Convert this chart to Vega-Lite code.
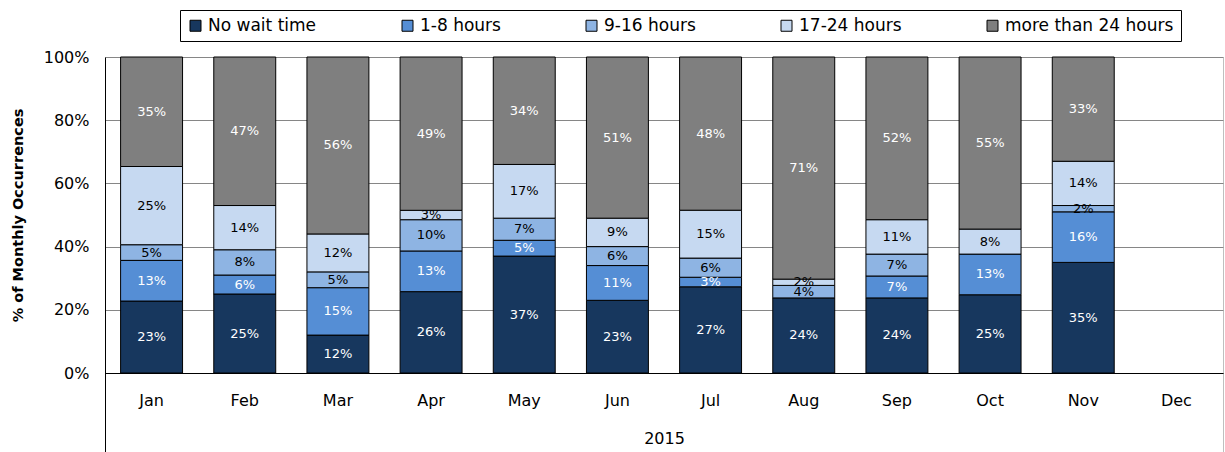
{
  "$schema": "https://vega.github.io/schema/vega-lite/v6.json",
  "width": 1118,
  "height": 395,
  "autosize": {"type": "none"},
  "padding": {"left": 105, "top": 57, "right": 2, "bottom": 0},
  "background": "white",
  "config": {"font": "DejaVu Sans", "view": {"stroke": "#bfbfbf", "strokeWidth": 1}},
  "data": {"values": [
    {"month": "Jan", "series": "No wait time", "rank": 1, "value": 0.23},
    {"month": "Jan", "series": "1-8 hours", "rank": 2, "value": 0.13},
    {"month": "Jan", "series": "9-16 hours", "rank": 3, "value": 0.05},
    {"month": "Jan", "series": "17-24 hours", "rank": 4, "value": 0.25},
    {"month": "Jan", "series": "more than 24 hours", "rank": 5, "value": 0.35},
    {"month": "Feb", "series": "No wait time", "rank": 1, "value": 0.25},
    {"month": "Feb", "series": "1-8 hours", "rank": 2, "value": 0.06},
    {"month": "Feb", "series": "9-16 hours", "rank": 3, "value": 0.08},
    {"month": "Feb", "series": "17-24 hours", "rank": 4, "value": 0.14},
    {"month": "Feb", "series": "more than 24 hours", "rank": 5, "value": 0.47},
    {"month": "Mar", "series": "No wait time", "rank": 1, "value": 0.12},
    {"month": "Mar", "series": "1-8 hours", "rank": 2, "value": 0.15},
    {"month": "Mar", "series": "9-16 hours", "rank": 3, "value": 0.05},
    {"month": "Mar", "series": "17-24 hours", "rank": 4, "value": 0.12},
    {"month": "Mar", "series": "more than 24 hours", "rank": 5, "value": 0.56},
    {"month": "Apr", "series": "No wait time", "rank": 1, "value": 0.26},
    {"month": "Apr", "series": "1-8 hours", "rank": 2, "value": 0.13},
    {"month": "Apr", "series": "9-16 hours", "rank": 3, "value": 0.10},
    {"month": "Apr", "series": "17-24 hours", "rank": 4, "value": 0.03},
    {"month": "Apr", "series": "more than 24 hours", "rank": 5, "value": 0.49},
    {"month": "May", "series": "No wait time", "rank": 1, "value": 0.37},
    {"month": "May", "series": "1-8 hours", "rank": 2, "value": 0.05},
    {"month": "May", "series": "9-16 hours", "rank": 3, "value": 0.07},
    {"month": "May", "series": "17-24 hours", "rank": 4, "value": 0.17},
    {"month": "May", "series": "more than 24 hours", "rank": 5, "value": 0.34},
    {"month": "Jun", "series": "No wait time", "rank": 1, "value": 0.23},
    {"month": "Jun", "series": "1-8 hours", "rank": 2, "value": 0.11},
    {"month": "Jun", "series": "9-16 hours", "rank": 3, "value": 0.06},
    {"month": "Jun", "series": "17-24 hours", "rank": 4, "value": 0.09},
    {"month": "Jun", "series": "more than 24 hours", "rank": 5, "value": 0.51},
    {"month": "Jul", "series": "No wait time", "rank": 1, "value": 0.27},
    {"month": "Jul", "series": "1-8 hours", "rank": 2, "value": 0.03},
    {"month": "Jul", "series": "9-16 hours", "rank": 3, "value": 0.06},
    {"month": "Jul", "series": "17-24 hours", "rank": 4, "value": 0.15},
    {"month": "Jul", "series": "more than 24 hours", "rank": 5, "value": 0.48},
    {"month": "Aug", "series": "No wait time", "rank": 1, "value": 0.24},
    {"month": "Aug", "series": "9-16 hours", "rank": 3, "value": 0.04},
    {"month": "Aug", "series": "17-24 hours", "rank": 4, "value": 0.02},
    {"month": "Aug", "series": "more than 24 hours", "rank": 5, "value": 0.71},
    {"month": "Sep", "series": "No wait time", "rank": 1, "value": 0.24},
    {"month": "Sep", "series": "1-8 hours", "rank": 2, "value": 0.07},
    {"month": "Sep", "series": "9-16 hours", "rank": 3, "value": 0.07},
    {"month": "Sep", "series": "17-24 hours", "rank": 4, "value": 0.11},
    {"month": "Sep", "series": "more than 24 hours", "rank": 5, "value": 0.52},
    {"month": "Oct", "series": "No wait time", "rank": 1, "value": 0.25},
    {"month": "Oct", "series": "1-8 hours", "rank": 2, "value": 0.13},
    {"month": "Oct", "series": "17-24 hours", "rank": 4, "value": 0.08},
    {"month": "Oct", "series": "more than 24 hours", "rank": 5, "value": 0.55},
    {"month": "Nov", "series": "No wait time", "rank": 1, "value": 0.35},
    {"month": "Nov", "series": "1-8 hours", "rank": 2, "value": 0.16},
    {"month": "Nov", "series": "9-16 hours", "rank": 3, "value": 0.02},
    {"month": "Nov", "series": "17-24 hours", "rank": 4, "value": 0.14},
    {"month": "Nov", "series": "more than 24 hours", "rank": 5, "value": 0.33}
  ]},
  "encoding": {
    "x": {
      "field": "month", "type": "nominal", "sort": null,
      "scale": {"domain": ["Jan","Feb","Mar","Apr","May","Jun","Jul","Aug","Sep","Oct","Nov","Dec"], "paddingInner": 0.335, "paddingOuter": 0.1675},
      "axis": {"orient": "bottom", "offset": -79, "ticks": false, "domain": true, "domainColor": "black", "domainWidth": 1,
        "labelFontSize": 16, "labelColor": "black", "labelPadding": 19, "labelAngle": 0,
        "title": "2015", "titleFontSize": 16, "titleFontWeight": "normal", "titleColor": "black", "titleY": 65, "titleBaseline": "middle"}
    }
  },
  "layer": [
    {
      "mark": {"type": "bar", "stroke": "black", "strokeWidth": 1},
      "encoding": {
        "y": {"field": "value", "type": "quantitative", "stack": "normalize",
          "scale": {"domain": [-0.25, 1], "nice": false},
          "axis": {"values": [0, 0.2, 0.4, 0.6, 0.8, 1], "format": ".0%", "grid": true, "gridColor": "#868686", "ticks": false,
            "domainColor": "black", "labelFontSize": 16, "labelColor": "black", "labelPadding": 16,
            "title": "% of Monthly Occurrences", "titleFontSize": 14.5, "titleFontWeight": "bold", "titleColor": "black",
            "titleX": -87, "titleY": 158, "titleBaseline": "middle", "titleAngle": -90}},
        "color": {"field": "series", "type": "nominal",
          "scale": {"domain": ["No wait time", "1-8 hours", "9-16 hours", "17-24 hours", "more than 24 hours"],
                    "range": ["#17375E", "#558ED5", "#8EB4E3", "#C6D9F1", "#7F7F7F"]},
          "legend": {"orient": "none", "legendX": 75, "legendY": -47, "direction": "horizontal", "columns": 5, "title": null,
            "strokeColor": "black", "fillColor": "white", "padding": 7, "symbolType": "square", "symbolSize": 121,
            "symbolStrokeColor": "black", "symbolStrokeWidth": 1, "symbolOpacity": 1, "labelFontSize": 17, "labelColor": "black",
            "columnPadding": 82, "labelOffset": 4, "labelLimit": 400}},
        "order": {"field": "rank", "type": "quantitative"}
      }
    },
    {
      "mark": {"type": "text", "fontSize": 13, "baseline": "middle"},
      "encoding": {
        "y": {"field": "value", "type": "quantitative", "stack": "normalize", "bandPosition": 0.5},
        "detail": {"field": "series"},
        "order": {"field": "rank", "type": "quantitative"},
        "text": {"field": "value", "type": "quantitative", "format": ".0%"},
        "color": {"condition": {"test": "datum.series === '9-16 hours' || datum.series === '17-24 hours'", "value": "black"}, "value": "white"}
      }
    }
  ]
}
